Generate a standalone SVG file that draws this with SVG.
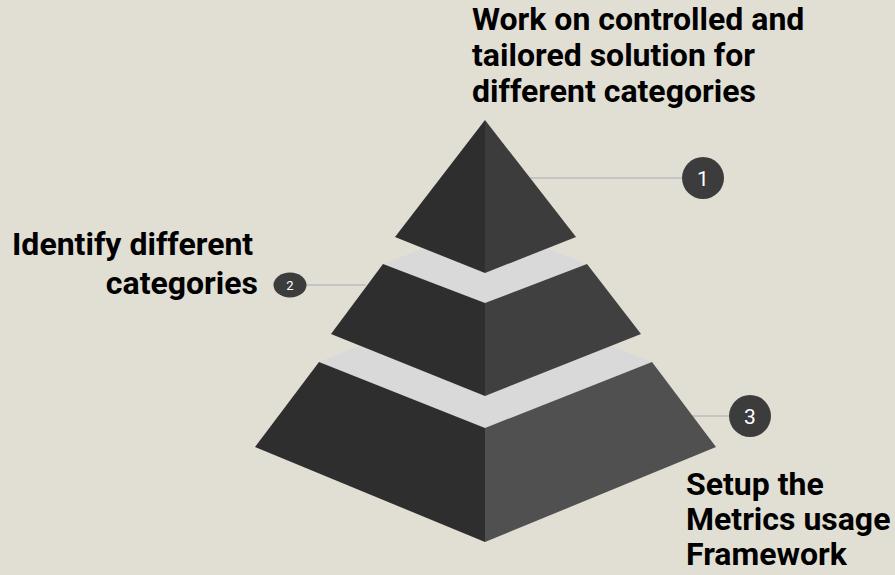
<svg xmlns="http://www.w3.org/2000/svg" width="895" height="575" viewBox="0 0 895 575">
<style>
.lbl{font-family:Roboto,"Liberation Sans",sans-serif;font-weight:bold;font-size:32px;fill:#000}
.num{font-family:Roboto,"Liberation Sans",sans-serif;fill:#fff;text-anchor:middle}
.dark{fill:#2E2E2E}
.band{fill:#D9D9D9}
.lead{stroke:#C4C4C4;stroke-width:2;fill:none}
.badge{fill:#3C3C3C}
</style>
<rect width="895" height="575" fill="#E1DED3"/>
<g id="connectors">
<line class="lead" x1="530" y1="178" x2="684" y2="178"/>
<line class="lead" x1="306" y1="285" x2="366" y2="285"/>
<line class="lead" x1="692" y1="416" x2="730" y2="416"/>
</g>
<g id="tier3">
<polygon class="band" points="319,362 485,296 652,362 485,428"/>
<polygon class="dark" points="319,362 485,428 485,542 255,447"/>
<polygon fill="#505050" points="485,428 652,362 716,447 485,542"/>
</g>
<g id="tier2">
<polygon class="band" points="383,264 485,225 587,264 485,303"/>
<polygon class="dark" points="383,264 485,303 485,396 331,334"/>
<polygon fill="#404040" points="485,303 587,264 641,334 485,396"/>
</g>
<g id="tier1">
<polygon class="dark" points="485,120 485,273 395,237"/>
<polygon fill="#3C3C3C" points="485,120 576,237 485,273"/>
</g>
<g id="badge1">
<circle class="badge" cx="703" cy="178" r="21"/>
<text class="num" x="703" y="185.5" font-size="21">1</text>
</g>
<g id="badge2">
<ellipse class="badge" cx="290" cy="285" rx="16.5" ry="12.5"/>
<text class="num" x="290" y="289.5" font-size="13">2</text>
</g>
<g id="badge3">
<circle class="badge" cx="750" cy="416" r="21"/>
<text class="num" x="750" y="423.5" font-size="21">3</text>
</g>
<g id="label1">
<text class="lbl" x="472" y="30">Work on controlled and</text>
<text class="lbl" x="472" y="66">tailored solution for</text>
<text class="lbl" x="472" y="102">different categories</text>
</g>
<g id="label2">
<text class="lbl" x="12" y="255">Identify different</text>
<text class="lbl" x="258" y="294" text-anchor="end">categories</text>
</g>
<g id="label3">
<text class="lbl" x="686" y="495">Setup the</text>
<text class="lbl" x="686" y="530">Metrics usage</text>
<text class="lbl" x="686" y="565">Framework</text>
</g>
</svg>
